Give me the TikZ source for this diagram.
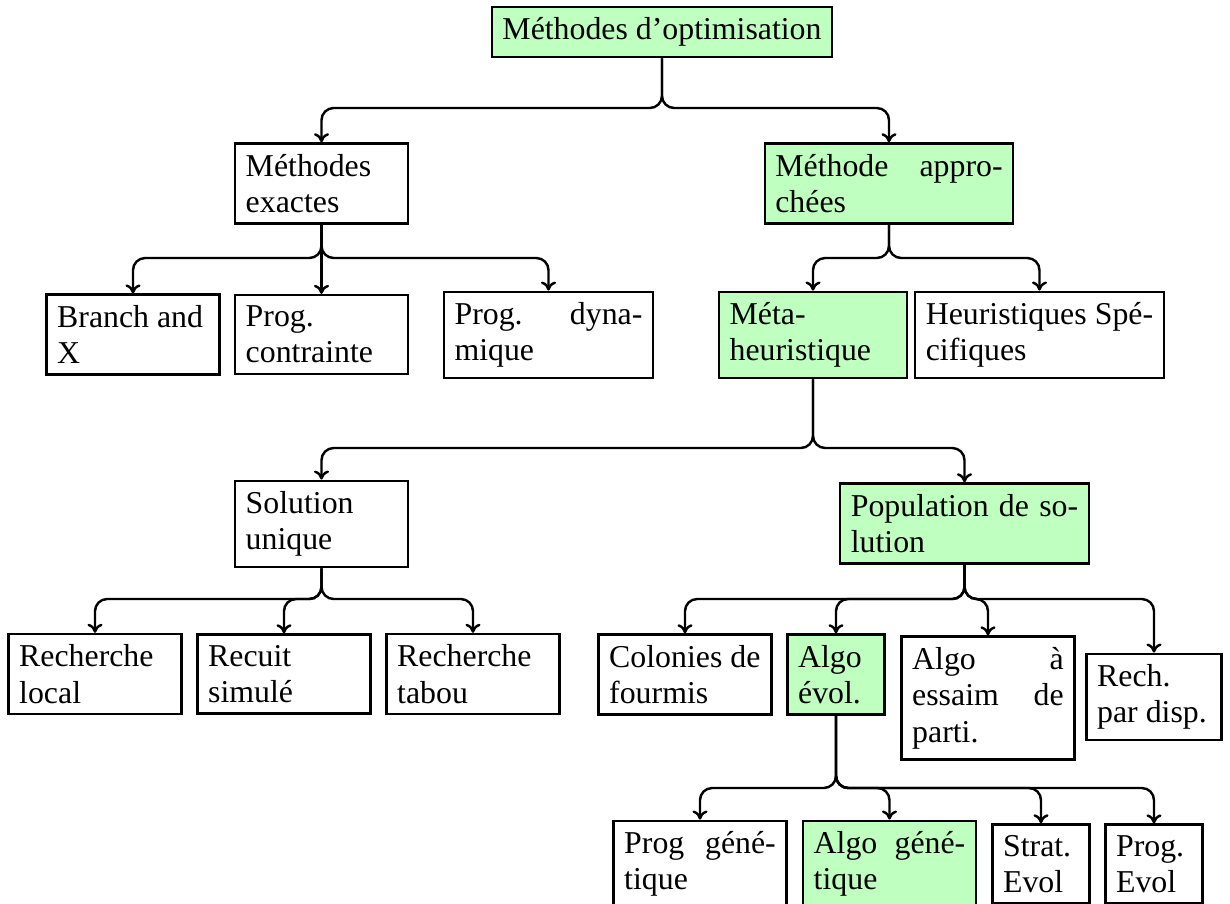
\documentclass[tikz,border=0pt]{standalone}
\usepackage{fontspec}
\setmainfont[Scale=1.05]{Liberation Serif}
\usepackage{tikz}
\usetikzlibrary{calc}
\usetikzlibrary{arrows.meta}
\tikzset{
	>={To[length=3pt, width=5pt]},
	cadre/.style={
		rectangle,
		draw=black, thick,
		inner sep=0.3333em},
	boite/.style={
		cadre,
		text width=50pt,
		align=justify},
	large/.style={text width=75pt},
	etroite/.style={text width=25pt},
	choisie/.style={fill=green!25},
	fleche/.style={draw, thick, ->, rounded corners=4pt},
}

\begin{document}
\begin{tikzpicture}
	[x=0.33pt, y=-0.33pt]
	\useasboundingbox (0,0) rectangle (1230,904);

	% niveaux des traits horizontaux
	\coordinate (n1) at (0,108);
	\coordinate (n2) at (0,258);
	\coordinate (n3) at (0,448);
	\coordinate (n4) at (0,599);
	\coordinate (n5) at (0,788);

	\node[cadre, choisie] (racine) at (662,32) {Méthodes d'optimisation};

	\node[boite] (exactes) at (321.5,183.5) {Méthodes\\exactes};
	\node[boite, large, choisie] (approchees) at (889,183.5) {Méthode appro-\linebreak chées};

	\node[boite] (branch) at (133,334.5) {Branch and\\X};
	\node[boite] (contrainte) at (321.5,334.5) {Prog.\\contrainte};
	\node[boite, text width=62pt] (dynamique) at (548.5,335) {Prog. dyna-\linebreak mique};
	\node[boite, text width=55pt, choisie] (meta) at (813,335) {Méta-\\heuristique};
	\node[boite, large] (heuristiques) at (1039.5,335) {Heuristiques Spé-\linebreak cifiques};

	\node[boite] (unique) at (321.5,524) {Solution\\unique};
	\node[boite, large, choisie] (population) at (964.5,523.5) {Population de so-\linebreak lution};

	\node[boite] (rlocal) at (95,674) {Recherche\\local};
	\node[boite] (recuit) at (284,674) {Recuit\\simulé};
	\node[boite] (tabou) at (473,674) {Recherche\\tabou};
	\node[boite] (fourmis) at (685,674.5) {Colonies de\\fourmis};
	\node[boite, etroite, choisie] (evol) at (836,674.5) {Algo\\évol.};
	\node[boite] (essaim) at (988,698) {Algo à\linebreak essaim de\linebreak parti.};
	\node[boite, text width=37.5pt] (dispersion) at (1154,697) {Rech.\\par disp.};

	\node[boite] (proggen) at (700,864) {Prog géné-\linebreak tique};
	\node[boite, choisie] (algogen) at (889.5,864) {Algo géné-\linebreak tique};
	\node[boite, etroite] (strat) at (1041,864) {Strat.\\Evol};
	\node[boite, etroite] (progevol) at (1154,864) {Prog.\\Evol};

	% les fleches: on descend du parent, puis on tourne vers l'enfant
	\foreach \p/\c/\n in {racine/exactes/n1, racine/approchees/n1,
		exactes/branch/n2, exactes/dynamique/n2,
		approchees/meta/n2, approchees/heuristiques/n2,
		meta/unique/n3, meta/population/n3,
		unique/rlocal/n4, unique/recuit/n4, unique/tabou/n4,
		population/fourmis/n4, population/evol/n4, population/essaim/n4, population/dispersion/n4,
		evol/proggen/n5, evol/algogen/n5, evol/strat/n5, evol/progevol/n5}
		\draw[fleche] (\p.south) |- (\c.north |- \n) -- (\c.north);
	\draw[fleche] (exactes.south) -- (contrainte.north);
\end{tikzpicture}
\end{document}
